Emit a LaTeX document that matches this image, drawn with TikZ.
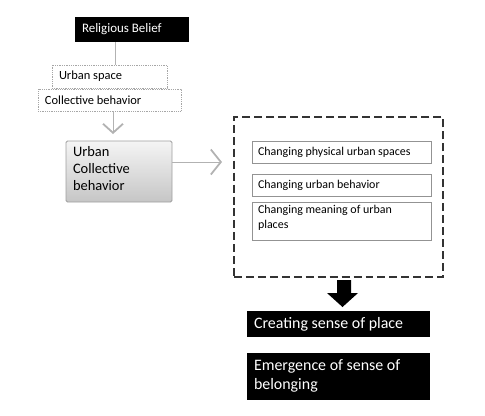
\documentclass[tikz,border=0pt]{standalone}
\usepackage{fontspec}
\setmainfont{Carlito}
\usetikzlibrary{arrows.meta}
\tikzset{
  base/.style={inner sep=0pt, outer sep=0pt, anchor=center},
  txt/.style={inner sep=0pt, outer sep=0pt, align=left},
  blackbox/.style={base, fill=black},
  dotbox/.style={base, draw=gray!70, densely dotted, line width=0.8pt},
  graybox/.style={base, draw=gray!75, top color=gray!8, bottom color=gray!45, rounded corners=1.5pt, line width=0.8pt},
  dashbox/.style={base, draw=black!80, line width=1.3pt, dash pattern=on 8pt off 4pt},
  plainbox/.style={base, draw=gray!85, line width=0.6pt},
  conn/.style={draw=gray!60, line width=0.8pt},
  small/.style={font=\fontsize{12.5}{15}\selectfont},
  inner/.style={font=\fontsize{12}{15}\selectfont},
  big/.style={font=\fontsize{16}{18.5}\selectfont},
}
\begin{document}
\begin{tikzpicture}[x=1bp, y=-1bp]
\useasboundingbox (0,0) rectangle (485,415);
% top
\node[blackbox, minimum width=114bp, minimum height=25bp] (rb) at (132,29.5) {};
\node[txt, anchor=west, text=white, font=\fontsize{13}{15}\selectfont] (rbt) at ([xshift=7bp]rb.west) {Religious Belief};
\node[dotbox, minimum width=115bp, minimum height=23bp] (us) at (109.5,76.5) {};
\node[txt, small, anchor=west] (ust) at ([xshift=7bp]us.west) {Urban space};
\node[dotbox, minimum width=143bp, minimum height=22bp] (cb) at (109.5,100) {};
\node[txt, small, anchor=west] (cbt) at ([xshift=7bp]cb.west) {Collective behavior};
\coordinate (l1) at (115,42);
\draw[conn] (l1) -- (l1 |- us.north);
\coordinate (t1) at (113,134);
\draw[conn, -{Straight Barb[length=9bp, width=20bp, line width=1.8pt]}] (cb.south -| t1) -- (t1);
% urban collective behavior
\node[graybox, minimum width=106bp, minimum height=61bp] (ucb) at (119,171.5) {};
\node[txt, anchor=north west, font=\fontsize{14.5}{17.5}\selectfont] (ucbt) at ([xshift=7bp, yshift=-5bp]ucb.north west) {Urban\\Collective\\behavior};
\coordinate (t2) at (222,162);
\draw[conn, -{Straight Barb[length=10bp, width=25bp, line width=1.8pt]}] (ucb.east |- t2) -- (t2);
% dashed group
\node[dashbox, minimum width=209bp, minimum height=160bp] (grp) at (338.5,197) {};
\node[plainbox, minimum width=179bp, minimum height=22bp] (b1) at (341.5,152) {};
\node[txt, inner, anchor=west] (b1t) at ([xshift=6bp]b1.west) {Changing physical urban spaces};
\node[plainbox, minimum width=179bp, minimum height=22bp] (b2) at (341.5,185) {};
\node[txt, inner, anchor=west] (b2t) at ([xshift=6bp]b2.west) {Changing urban behavior};
\node[plainbox, minimum width=179bp, minimum height=38bp] (b3) at (341.5,221) {};
\node[txt, inner, anchor=north west] (b3t) at ([xshift=6bp, yshift=-3bp]b3.north west) {Changing meaning of urban\\places};
% outcomes
\node[blackbox, minimum width=183bp, minimum height=26bp] (csp) at (338.5,324) {};
\node[txt, big, anchor=west, text=white] (cspt) at ([xshift=7bp]csp.west) {Creating sense of place};
\node[blackbox, minimum width=183bp, minimum height=47bp] (esb) at (338.5,376.5) {};
\node[txt, big, anchor=north west, text=white] (esbt) at ([xshift=7bp, yshift=-7bp]esb.north west) {Emergence of sense of\\belonging};
% block arrow
\fill[black] (337,280) -- (351,280) -- (351,293) -- (358,293) -- (342.5,307) -- (327,293) -- (337,293) -- cycle;
\end{tikzpicture}
\end{document}
